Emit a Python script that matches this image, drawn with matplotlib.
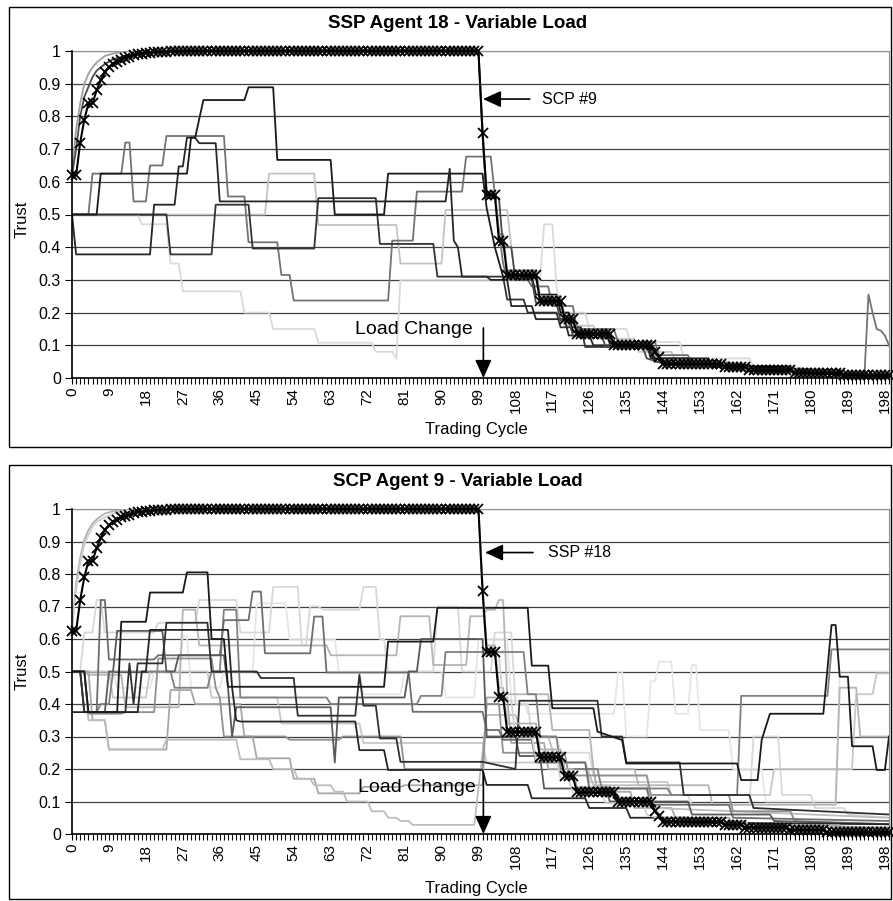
import matplotlib
matplotlib.use('Agg')
import matplotlib.pyplot as plt
from matplotlib.patches import Rectangle

plt.rcParams['font.family'] = ['Liberation Sans', 'DejaVu Sans']

# ---------------- data: SSP Agent 18 (top panel) ----------------
cycles = list(range(200))
x_tick_labels = [str(c) if c % 9 == 0 else '' for c in cycles]
y_ticks = [0, 0.1, 0.2, 0.3, 0.4, 0.5, 0.6, 0.7, 0.8, 0.9, 1.0]
y_tick_labels = ['0', '0.1', '0.2', '0.3', '0.4', '0.5', '0.6', '0.7', '0.8', '0.9', '1']

rise = [0.84, 0.88, 0.91, 0.935, 0.95, 0.96, 0.967, 0.974, 0.979, 0.983,
        0.987, 0.99, 0.992, 0.994, 0.995, 0.996, 0.997, 0.998, 0.998, 0.999,
        0.999, 0.999, 0.999]

# trust in SCP #9 (marked series), one value per trading cycle
main_top = ([0.62, 0.62, 0.72, 0.79, 0.84, 0.84] + rise[1:] + [0.999] + [1.0] * 71
            + [0.75, 0.56, 0.56, 0.56, 0.42, 0.42] + [0.315] * 8 + [0.236] * 6
            + [0.18] * 3 + [0.136] * 9 + [0.1] * 10 + [0.08, 0.065] + [0.043] * 15
            + [0.035] * 6 + [0.023] * 11 + [0.015] * 12 + [0.008] * 12)

# other SCPs (vertices)
t1_x = [0, 6, 7, 28, 29, 30, 32, 42, 43, 49, 50, 63, 64, 76, 77, 100, 101, 103, 105, 112, 113,
        118, 119, 121, 122, 130, 131, 140, 142, 157, 158, 170, 171, 185, 186, 199]
t1_y = [0.5, 0.5, 0.625, 0.625, 0.735, 0.735, 0.85, 0.85, 0.889, 0.889, 0.667, 0.667, 0.5, 0.5,
        0.625, 0.625, 0.52, 0.4, 0.31, 0.31, 0.255, 0.255, 0.2, 0.2, 0.14, 0.14, 0.105, 0.105,
        0.05, 0.05, 0.035, 0.035, 0.02, 0.02, 0.01, 0.006]
t2_x = [0, 4, 5, 12, 13, 14, 15, 18, 19, 22, 23, 37, 38, 42, 43, 50, 51, 53, 54, 77, 78, 83, 84,
        95, 96, 102, 103, 104, 105, 106, 111, 112, 116, 117, 122, 123, 132, 133, 142, 143, 150,
        151, 160, 161, 180, 181, 192, 193, 194, 195, 196, 197, 198, 199]
t2_y = [0.5, 0.5, 0.625, 0.625, 0.72, 0.72, 0.54, 0.54, 0.65, 0.65, 0.74, 0.74, 0.555, 0.555,
        0.415, 0.415, 0.315, 0.315, 0.237, 0.237, 0.42, 0.42, 0.57, 0.57, 0.677, 0.677, 0.56,
        0.45, 0.35, 0.3, 0.3, 0.28, 0.28, 0.22, 0.22, 0.15, 0.15, 0.11, 0.11, 0.07, 0.07, 0.045,
        0.045, 0.028, 0.028, 0.012, 0.012, 0.004, 0.255, 0.2, 0.15, 0.145, 0.13, 0.1]
t3_x = [0, 1, 19, 20, 25, 26, 27, 28, 30, 31, 35, 36, 91, 92, 93, 94, 95, 101, 102, 106, 107,
        112, 113, 120, 121, 126, 127, 140, 141, 155, 156, 175, 176, 199]
t3_y = [0.5, 0.378, 0.378, 0.53, 0.53, 0.647, 0.647, 0.735, 0.735, 0.718, 0.718, 0.54, 0.54,
        0.64, 0.42, 0.4, 0.31, 0.31, 0.3, 0.3, 0.22, 0.22, 0.18, 0.18, 0.13, 0.13, 0.1, 0.1,
        0.06, 0.06, 0.035, 0.035, 0.015, 0.005]
t4_x = [0, 23, 24, 34, 35, 43, 44, 59, 60, 74, 75, 88, 89, 105, 106, 110, 111, 118, 119, 124,
        125, 141, 142, 150, 151, 165, 166, 199]
t4_y = [0.5, 0.5, 0.378, 0.378, 0.53, 0.53, 0.396, 0.396, 0.55, 0.55, 0.41, 0.41, 0.31, 0.31,
        0.24, 0.24, 0.2, 0.2, 0.155, 0.155, 0.095, 0.095, 0.06, 0.06, 0.04, 0.04, 0.025, 0.008]
t5_x = [0, 47, 48, 59, 60, 79, 80, 90, 91, 106, 107, 108, 113, 114, 119, 120, 127, 128, 137,
        138, 146, 147, 160, 161, 178, 179, 199]
t5_y = [0.5, 0.5, 0.625, 0.625, 0.468, 0.468, 0.35, 0.35, 0.514, 0.514, 0.4, 0.3, 0.3, 0.25,
        0.25, 0.16, 0.16, 0.12, 0.12, 0.08, 0.08, 0.05, 0.05, 0.03, 0.03, 0.015, 0.006]
t6_x = [0, 16, 17, 23, 24, 26, 27, 41, 42, 48, 49, 59, 60, 73, 74, 78, 79, 80, 112, 113, 114,
        115, 117, 118, 119, 125, 126, 135, 136, 148, 149, 165, 166, 199]
t6_y = [0.5, 0.5, 0.47, 0.47, 0.35, 0.35, 0.265, 0.265, 0.2, 0.2, 0.15, 0.15, 0.108, 0.108,
        0.08, 0.08, 0.06, 0.3, 0.3, 0.28, 0.3, 0.47, 0.47, 0.28, 0.2, 0.2, 0.15, 0.15, 0.11,
        0.11, 0.06, 0.06, 0.03, 0.01]
t7_x = [0, 1, 2, 3, 4, 5, 6, 7, 8, 10, 12, 14, 99, 100, 101, 103, 104, 105, 106, 113, 114, 119,
        120, 122, 123, 131, 132, 141, 142, 144, 158, 159, 164, 165, 187, 188, 199]
t7_y = [0.63, 0.76, 0.84, 0.9, 0.93, 0.95, 0.965, 0.975, 0.985, 0.992, 0.997, 1.0, 1.0, 0.76,
        0.57, 0.57, 0.44, 0.44, 0.33, 0.33, 0.25, 0.25, 0.19, 0.19, 0.14, 0.14, 0.105, 0.105,
        0.07, 0.048, 0.048, 0.036, 0.036, 0.025, 0.025, 0.016, 0.009]
t8_x = [0, 1, 2, 3, 4, 5, 6, 8, 10, 13, 16, 20, 99, 100, 101, 104, 105, 107, 108, 112, 113,
        118, 119, 121, 122, 129, 130, 139, 140, 145, 157, 158, 163, 164, 185, 186, 199]
t8_y = [0.62, 0.7, 0.8, 0.86, 0.89, 0.92, 0.94, 0.96, 0.975, 0.985, 0.992, 1.0, 1.0, 0.74,
        0.55, 0.55, 0.4, 0.4, 0.3, 0.3, 0.23, 0.23, 0.175, 0.175, 0.13, 0.13, 0.095, 0.095,
        0.06, 0.04, 0.04, 0.03, 0.03, 0.02, 0.02, 0.012, 0.006]

# ---------------- data: SCP Agent 9 (bottom panel) ----------------
# trust in SSP #18 (marked series)
main_bot = ([0.625, 0.625, 0.72, 0.79, 0.84, 0.84] + rise[1:] + [0.999] + [1.0] * 71
            + [0.748, 0.561, 0.561, 0.561, 0.423, 0.423] + [0.315] * 8 + [0.236] * 6
            + [0.177] * 3 + [0.128] * 10 + [0.1] * 9 + [0.07, 0.056] + [0.038] * 15
            + [0.028] * 5 + [0.02] * 11 + [0.012] * 9 + [0.005] * 16)

b1_x = [0, 3, 4, 11, 12, 18, 19, 27, 28, 33, 34, 37, 38, 76, 77, 88, 89, 111, 112, 116, 117,
        127, 128, 134, 135, 162, 163, 167, 168, 170, 183, 185, 186, 187, 189, 190, 195, 196,
        198, 199]
b1_y = [0.5, 0.5, 0.375, 0.375, 0.653, 0.653, 0.743, 0.743, 0.805, 0.805, 0.6, 0.6, 0.453,
        0.453, 0.592, 0.592, 0.696, 0.696, 0.518, 0.518, 0.387, 0.387, 0.315, 0.289, 0.217,
        0.217, 0.166, 0.166, 0.29, 0.37, 0.37, 0.643, 0.643, 0.484, 0.484, 0.27, 0.27, 0.197,
        0.197, 0.3]
b2_x = [0, 4, 16, 17, 18, 19, 38, 39, 40, 41, 69, 70, 76, 77, 100, 101, 111, 112, 125, 126,
        135, 136, 150, 151, 199]
b2_y = [0.375, 0.375, 0.375, 0.5, 0.5, 0.628, 0.628, 0.45, 0.35, 0.346, 0.346, 0.258, 0.258,
        0.197, 0.197, 0.151, 0.151, 0.11, 0.11, 0.08, 0.08, 0.05, 0.05, 0.035, 0.03]
b3_x = [0, 3, 4, 6, 7, 8, 9, 20, 21, 36, 37, 43, 44, 46, 47, 58, 59, 61, 62, 82, 83, 100, 101,
        104, 105, 112, 113, 125, 126, 140, 141, 160, 161, 199]
b3_y = [0.5, 0.5, 0.375, 0.375, 0.72, 0.72, 0.537, 0.537, 0.55, 0.55, 0.658, 0.658, 0.746,
        0.746, 0.556, 0.556, 0.669, 0.669, 0.497, 0.497, 0.376, 0.376, 0.32, 0.32, 0.29, 0.29,
        0.22, 0.22, 0.14, 0.14, 0.09, 0.09, 0.05, 0.04]
b4_x = [0, 2, 3, 13, 14, 15, 16, 22, 23, 33, 34, 45, 46, 54, 55, 69, 70, 71, 74, 75, 79, 80,
        100, 108, 109, 128, 129, 134, 135, 148, 149, 165, 166, 199]
b4_y = [0.5, 0.5, 0.375, 0.375, 0.525, 0.4, 0.525, 0.525, 0.65, 0.65, 0.5, 0.5, 0.48, 0.48,
        0.364, 0.364, 0.49, 0.395, 0.395, 0.294, 0.294, 0.222, 0.222, 0.2, 0.41, 0.41, 0.3, 0.3,
        0.22, 0.22, 0.12, 0.12, 0.08, 0.06]
b5_x = [0, 3, 4, 8, 9, 22, 23, 40, 41, 48, 49, 54, 55, 58, 59, 63, 64, 66, 67, 72, 73, 76, 77,
        79, 80, 82, 83, 98, 101, 108, 110, 116, 118, 125, 127, 140, 142, 199]
b5_y = [0.5, 0.5, 0.35, 0.35, 0.26, 0.26, 0.29, 0.29, 0.23, 0.23, 0.2, 0.2, 0.17, 0.17, 0.15,
        0.15, 0.13, 0.13, 0.1, 0.1, 0.07, 0.07, 0.05, 0.05, 0.04, 0.04, 0.028, 0.028, 0.366,
        0.366, 0.3, 0.3, 0.22, 0.22, 0.15, 0.15, 0.08, 0.05]
b6_x = [0, 2, 3, 6, 7, 9, 10, 24, 25, 33, 34, 36, 37, 40, 41, 62, 63, 84, 85, 90, 91, 110, 111,
        113, 114, 118, 119, 128, 129, 145, 146, 162, 163, 184, 185, 199]
b6_y = [0.5, 0.5, 0.375, 0.375, 0.4, 0.4, 0.5, 0.5, 0.45, 0.45, 0.5, 0.5, 0.69, 0.69, 0.42,
        0.42, 0.4, 0.4, 0.425, 0.425, 0.56, 0.56, 0.43, 0.43, 0.3, 0.3, 0.2, 0.2, 0.14, 0.14,
        0.12, 0.12, 0.425, 0.425, 0.568, 0.568]
b7_x = [0, 2, 3, 5, 6, 7, 8, 20, 21, 30, 31, 40, 41, 48, 49, 55, 56, 57, 58, 60, 61, 70, 71,
        74, 75, 76, 77, 88, 89, 94, 95, 102, 103, 107, 108, 111, 112, 118, 119, 126, 127, 140,
        141, 150, 151, 165, 166, 172, 173, 180, 181, 188, 189, 199]
b7_y = [0.5, 0.5, 0.62, 0.62, 0.72, 0.72, 0.62, 0.62, 0.65, 0.65, 0.72, 0.72, 0.62, 0.62,
        0.76, 0.76, 0.58, 0.58, 0.7, 0.7, 0.69, 0.69, 0.76, 0.76, 0.6, 0.6, 0.5, 0.5, 0.7, 0.7,
        0.5, 0.5, 0.62, 0.62, 0.4, 0.4, 0.3, 0.3, 0.25, 0.25, 0.18, 0.18, 0.12, 0.12, 0.09,
        0.09, 0.3, 0.3, 0.12, 0.12, 0.08, 0.08, 0.06, 0.05]
b8_x = [0, 10, 11, 19, 20, 26, 27, 28, 29, 36, 37, 44, 45, 52, 53, 64, 65, 70, 71, 80, 81, 90,
        91, 98, 99, 106, 107, 110, 111, 132, 133, 134, 135, 140, 141, 142, 143, 146, 147, 150,
        151, 152, 153, 160, 161, 168, 169, 186, 187, 199]
b8_y = [0.5, 0.5, 0.45, 0.45, 0.5, 0.5, 0.61, 0.61, 0.45, 0.45, 0.5, 0.5, 0.71, 0.71, 0.6,
        0.6, 0.5, 0.5, 0.43, 0.43, 0.5, 0.5, 0.42, 0.42, 0.6, 0.6, 0.41, 0.41, 0.37, 0.37, 0.5,
        0.5, 0.3, 0.3, 0.47, 0.47, 0.53, 0.53, 0.37, 0.37, 0.52, 0.52, 0.32, 0.32, 0.2, 0.2,
        0.1, 0.1, 0.5, 0.5]
b9_x = [0, 4, 5, 8, 9, 23, 24, 29, 30, 41, 42, 44, 45, 53, 54, 59, 60, 70, 71, 80, 81, 100,
        101, 106, 107, 115, 116, 127, 128, 136, 137, 146, 147, 160, 161, 199]
b9_y = [0.5, 0.5, 0.35, 0.35, 0.26, 0.26, 0.443, 0.443, 0.4, 0.4, 0.3, 0.3, 0.233, 0.233,
        0.17, 0.17, 0.125, 0.125, 0.145, 0.145, 0.15, 0.15, 0.42, 0.42, 0.28, 0.28, 0.2, 0.2,
        0.13, 0.13, 0.08, 0.08, 0.05, 0.05, 0.03, 0.02]
b10_x = [0, 3, 4, 12, 13, 20, 21, 34, 35, 36, 37, 52, 53, 65, 66, 80, 81, 100, 101, 104, 105,
         120, 121, 140, 141, 160, 161, 175, 176, 199]
b10_y = [0.5, 0.5, 0.37, 0.37, 0.375, 0.375, 0.54, 0.54, 0.45, 0.42, 0.3, 0.3, 0.29, 0.29,
         0.3, 0.3, 0.2, 0.2, 0.4, 0.4, 0.25, 0.25, 0.18, 0.18, 0.12, 0.12, 0.07, 0.07, 0.04,
         0.03]
b11_x = [0, 2, 3, 8, 9, 10, 11, 22, 23, 25, 26, 37, 38, 39, 40, 63, 64, 65, 81, 82, 84, 85,
         100, 101, 108, 109, 114, 115, 130, 131, 150, 151, 170, 171, 199]
b11_y = [0.5, 0.5, 0.375, 0.375, 0.5, 0.5, 0.625, 0.625, 0.5, 0.5, 0.55, 0.55, 0.45, 0.3,
         0.39, 0.39, 0.22, 0.42, 0.42, 0.5, 0.5, 0.6, 0.6, 0.3, 0.3, 0.24, 0.24, 0.14, 0.14,
         0.1, 0.1, 0.06, 0.06, 0.04, 0.03]
b12_x = [0, 3, 4, 12, 13, 26, 27, 30, 31, 62, 63, 79, 80, 87, 88, 96, 97, 100, 101, 103, 104,
         105, 106, 116, 117, 126, 127, 137, 138, 155, 156, 186, 187, 191, 192, 199]
b12_y = [0.5, 0.5, 0.49, 0.49, 0.39, 0.39, 0.69, 0.69, 0.58, 0.58, 0.55, 0.55, 0.67, 0.67,
         0.52, 0.52, 0.67, 0.67, 0.69, 0.69, 0.72, 0.72, 0.43, 0.43, 0.32, 0.32, 0.2, 0.2,
         0.15, 0.15, 0.09, 0.09, 0.45, 0.45, 0.3, 0.3]
b13_x = [0, 9, 10, 18, 19, 33, 34, 50, 51, 70, 71, 100, 101, 125, 126, 145, 146, 170, 171, 190,
         191, 195, 196, 199]
b13_y = [0.5, 0.5, 0.42, 0.42, 0.5, 0.5, 0.42, 0.42, 0.34, 0.34, 0.28, 0.28, 0.22, 0.22, 0.16,
         0.16, 0.12, 0.12, 0.2, 0.2, 0.43, 0.43, 0.494, 0.494]
b14_x = t7_x
b14_y = [0.635, 0.77, 0.85, 0.905, 0.935, 0.955, 0.968, 0.978, 0.986, 0.993, 0.997, 1.0, 1.0,
         0.77, 0.58, 0.58, 0.45, 0.45, 0.34, 0.34, 0.26, 0.26, 0.2, 0.2, 0.145, 0.145, 0.11,
         0.11, 0.075, 0.05, 0.05, 0.038, 0.038, 0.027, 0.027, 0.017, 0.01]
b15_x = t8_x
b15_y = [0.63, 0.75, 0.83, 0.89, 0.92, 0.945, 0.96, 0.975, 0.985, 0.992, 0.996, 1.0, 1.0,
         0.74, 0.55, 0.55, 0.41, 0.41, 0.3, 0.3, 0.23, 0.23, 0.17, 0.17, 0.125, 0.125, 0.095,
         0.095, 0.06, 0.04, 0.04, 0.03, 0.03, 0.02, 0.02, 0.012, 0.006]


def draw_panel(ax, others, main, label, label_xy, arrow_from, arrow_to, load_y, load_text_xy):
    for xs, ys, col in others:
        ax.plot(xs, ys, color=col, lw=1.3, zorder=3)
    ax.plot(cycles, main, color='black', lw=1.5, marker='x', ms=6.5, mew=1.3, zorder=5,
            clip_on=False)

    ax.set_xlim(0, 199)
    ax.set_ylim(0, 1)
    ax.set_yticks(y_ticks)
    ax.set_yticklabels(y_tick_labels, fontsize=11.5)
    ax.set_xticks(cycles)
    ax.set_xticklabels(x_tick_labels, rotation=90, fontsize=11)
    ax.tick_params(axis='x', length=4, width=0.8, pad=3)
    ax.tick_params(axis='y', length=5, width=0.8, pad=3)
    ax.grid(axis='y', color='#404040', lw=0.9, zorder=1)
    ax.set_axisbelow(True)
    for side in ['top', 'right']:
        ax.spines[side].set_color('#909090')
    for side in ['left', 'bottom']:
        ax.spines[side].set_color('black')
        ax.spines[side].set_linewidth(1.2)
        ax.spines[side].set_zorder(6)

    head = '-|>,head_length=1.1,head_width=0.5'
    ax.annotate('', xy=arrow_to, xytext=arrow_from,
                arrowprops=dict(arrowstyle=head, color='black', lw=1.2, mutation_scale=10,
                                shrinkA=0, shrinkB=0), zorder=7)
    ax.text(label_xy[0], label_xy[1], label, fontsize=11.5, va='center', ha='left', zorder=7)
    ax.annotate('', xy=(100.2, 0), xytext=(100.2, load_y),
                arrowprops=dict(arrowstyle=head, color='black', lw=1.2, mutation_scale=10,
                                shrinkA=0, shrinkB=0), zorder=7, annotation_clip=False)
    ax.text(load_text_xy[0], load_text_xy[1], 'Load Change', fontsize=14, va='center',
            ha='left', zorder=7)


W, H = 893, 901
fig = plt.figure(figsize=(W / 100, H / 100), dpi=100)

# frames around each chart
for (left, top, right, bottom) in [(9, 7, 891, 447), (9, 465, 891, 899)]:
    fig.patches.append(Rectangle((left / W, 1 - bottom / H), (right - left) / W,
                                 (bottom - top) / H, transform=fig.transFigure,
                                 fill=False, edgecolor='black', lw=1.0))

ax1 = fig.add_axes([72 / W, 1 - 378 / H, (889 - 72) / W, (378 - 51) / H])
top_others = [
    (t6_x, t6_y, '#dadada'), (t5_x, t5_y, '#c4c4c4'), (t2_x, t2_y, '#737373'),
    (t4_x, t4_y, '#333333'), (t3_x, t3_y, '#262626'), (t1_x, t1_y, '#1a1a1a'),
    (t7_x, t7_y, '#a0a0a0'), (t8_x, t8_y, '#4a4a4a'),
]
draw_panel(ax1, top_others, main_top, 'SCP #9', (114.5, 0.853), (111.5, 0.853),
           (100.1, 0.853), 0.153, (68.9, 0.147))

ax2 = fig.add_axes([72 / W, 1 - 834 / H, (889 - 72) / W, (834 - 509) / H])
bot_others = [
    (b8_x, b8_y, '#e6e6e6'), (b7_x, b7_y, '#d8d8d8'), (b13_x, b13_y, '#c8c8c8'),
    (b12_x, b12_y, '#b5b5b5'), (b9_x, b9_y, '#a8a8a8'), (b5_x, b5_y, '#bdbdbd'),
    (b10_x, b10_y, '#909090'), (b6_x, b6_y, '#808080'), (b3_x, b3_y, '#6e6e6e'),
    (b11_x, b11_y, '#5a5a5a'), (b4_x, b4_y, '#303030'), (b2_x, b2_y, '#262626'),
    (b1_x, b1_y, '#1a1a1a'), (b14_x, b14_y, '#b0b0b0'), (b15_x, b15_y, '#d0d0d0'),
]
draw_panel(ax2, bot_others, main_bot, 'SSP #18', (115.9, 0.866), (112.3, 0.866),
           (100.6, 0.866), 0.19, (69.6, 0.144))

fig.text(458 / W, 1 - 23 / H, 'SSP Agent 18 - Variable Load', ha='center', va='center',
         fontsize=13.5, fontweight='bold')
fig.text(458 / W, 1 - 482 / H, 'SCP Agent 9 - Variable Load', ha='center', va='center',
         fontsize=13.5, fontweight='bold')
fig.text(476 / W, 1 - 430 / H, 'Trading Cycle', ha='center', va='center', fontsize=12)
fig.text(476 / W, 1 - 888 / H, 'Trading Cycle', ha='center', va='center', fontsize=12)
fig.text(22 / W, 1 - 219 / H, 'Trust', ha='center', va='center', rotation=90, fontsize=12)
fig.text(22 / W, 1 - 671 / H, 'Trust', ha='center', va='center', rotation=90, fontsize=12)

fig.savefig('out.png', dpi=100)
